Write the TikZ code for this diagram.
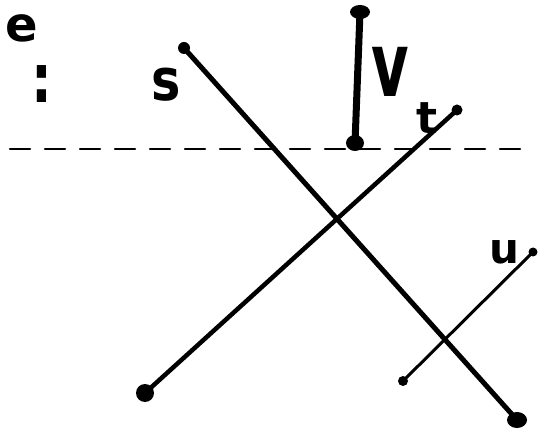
\documentclass[tikz,border=0pt]{standalone}
\usepackage{fontspec}
\setmainfont{DejaVu Sans}
\begin{document}
\begin{tikzpicture}[x=1pt,y=-1pt,
  seg/.style={line width=#1, line cap=round},
  lbl/.style={font=\bfseries\fontsize{#1}{#1}\selectfont, inner sep=0pt},
  sweep/.style={line width=2.5pt, dash pattern=on 20pt off 15pt, line cap=round}]
\useasboundingbox (0,0) rectangle (538,435);
\fill[white] (0,0) rectangle (538,435);
% endpoints
\coordinate (s1) at (184,48);
\coordinate (s2) at (517,420);
\coordinate (t1) at (145,393);
\coordinate (t2) at (457,110);
\coordinate (v1) at (360,12);
\coordinate (v2) at (355,143);
\coordinate (u1) at (403,381);
\coordinate (u2) at (533,252);
\coordinate (d1) at (10,149);
\coordinate (d2) at (526,149);
% sweep line
\draw[sweep] (d1) -- (d2);
% segments
\draw[seg=5pt] (s1) -- (s2);
\draw[seg=4.5pt] (t1) -- (t2);
\draw[seg=7pt] (v1) -- (v2);
\draw[seg=3pt] (u1) -- (u2);
% endpoint dots
\fill (s1) circle (6pt);
\fill (s2) ellipse (10pt and 8pt);
\fill (t1) circle (9pt);
\fill (t2) circle (5.5pt);
\fill (v1) ellipse (10pt and 7pt);
\fill (v2) ellipse (9pt and 8pt);
\fill (u1) circle (5pt);
\fill (u2) circle (4.5pt);
% labels
\node[lbl=58, xscale=0.85] (ls) at (166,85) {s};
\node[lbl=72, xscale=0.8, yscale=1.25] (lv) at (390,72) {v};
\node[lbl=44] (lt) at (427,118) {t};
\node[lbl=42] (lu) at (504,252) {u};
\node[lbl=48] (le) at (22,28) {e};
\node[lbl=52, yscale=1.3] (lc) at (42,84) {:};
\end{tikzpicture}
\end{document}
